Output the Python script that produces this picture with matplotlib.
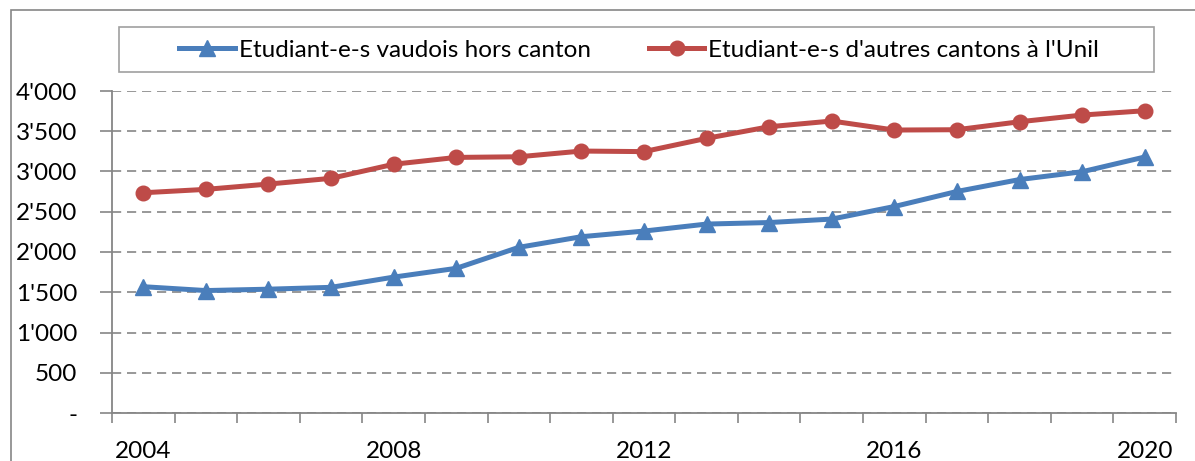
import matplotlib.pyplot as plt
from matplotlib.ticker import FuncFormatter, FixedLocator
from matplotlib.patches import Rectangle

plt.rcParams['font.family'] = ['Lato', 'DejaVu Sans']

# Donnees
annees = [2004, 2005, 2006, 2007, 2008, 2009, 2010, 2011, 2012,
          2013, 2014, 2015, 2016, 2017, 2018, 2019, 2020]
vaudois_hors_canton = [1569, 1521, 1538, 1561, 1688, 1797, 2058, 2190, 2260,
                       2347, 2366, 2409, 2565, 2752, 2900, 2997, 3180]
autres_cantons = [2736, 2778, 2844, 2915, 3090, 3175, 3183, 3254, 3247,
                  3412, 3556, 3627, 3515, 3519, 3618, 3701, 3755]
annees_affichees = [2004, 2008, 2012, 2016, 2020]
label_vaudois = 'Etudiant-e-s vaudois hors canton'
label_autres = "Etudiant-e-s d'autres cantons à l'Unil"

W, H = 1195, 461
fig = plt.figure(figsize=(W / 100, H / 100), dpi=100)
ax = fig.add_axes([112 / W, 1 - 413 / H, (1176 - 112) / W, (413 - 91) / H])

gris = '#868686'
bleu = '#4A7EBB'
rouge = '#BE4B48'
taille = 17.5

x = list(range(len(annees)))
ax.plot(x, vaudois_hors_canton, color=bleu, lw=3.6, marker='^', ms=11,
        label=label_vaudois, zorder=3)
ax.plot(x, autres_cantons, color=rouge, lw=3.6, marker='o', ms=10.5,
        label=label_autres, zorder=3)

ax.set_xlim(-0.5, len(annees) - 0.5)
ax.set_ylim(0, 4000)

# axe y
ax.set_yticks(range(0, 4001, 500))
def fmt_milliers(v, pos):
    if v == 0:
        return '-'
    return f"{int(v):,}".replace(',', "'")
ax.yaxis.set_major_formatter(FuncFormatter(fmt_milliers))
ax.tick_params(axis='y', length=9, width=1.2, color=gris, labelsize=taille, pad=16)
ax.grid(axis='y', color=gris, ls=(0, (5.5, 3.5)), lw=1.2)

# axe x: graduations entre les categories, etiquettes tous les 4 ans
pos_labels = [annees.index(a) for a in annees_affichees]
ax.xaxis.set_major_locator(FixedLocator(pos_labels))
ax.set_xticklabels([str(a) for a in annees_affichees])
ax.xaxis.set_minor_locator(FixedLocator([i - 0.5 for i in range(len(annees) + 1)]))
ax.tick_params(axis='x', which='major', length=0, labelsize=taille, pad=20)
ax.tick_params(axis='x', which='minor', length=7, width=1.2, color=gris)

for s in ['top', 'right']:
    ax.spines[s].set_visible(False)
for s in ['left', 'bottom']:
    ax.spines[s].set_color(gris)
    ax.spines[s].set_linewidth(1.3)

# cadre exterieur (coupe a droite et en bas)
fig.patches.append(Rectangle((11 / W, -0.1), 1.2, 1 - 10 / H + 0.1,
                             transform=fig.transFigure, fill=False,
                             edgecolor=gris, lw=1.2))

# legende
fig.patches.append(Rectangle((119 / W, 1 - 72 / H), (1154 - 119) / W, 45 / H,
                             transform=fig.transFigure, fill=False,
                             edgecolor='#A0A0A0', lw=1.2))
fig.legend(loc='center', ncol=2, mode='expand', frameon=False,
           bbox_to_anchor=(162 / W, 1 - 70 / H, (1116 - 162) / W, 40 / H),
           fontsize=taille, handlelength=2.3, handletextpad=0.15, borderpad=0.2)

fig.savefig('out.png', dpi=100)
